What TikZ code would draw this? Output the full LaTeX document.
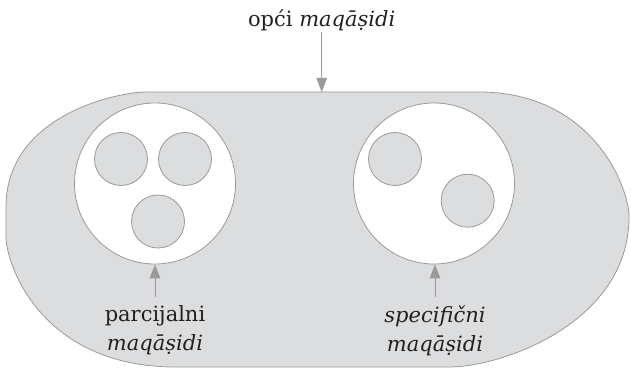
\documentclass[tikz,border=0pt]{standalone}
\usepackage{fontspec}
\setmainfont{DejaVu Serif}
\usetikzlibrary{arrows.meta}
\definecolor{shade}{HTML}{DCDDDF}
\definecolor{rim}{HTML}{9A9A9A}
\definecolor{ink}{HTML}{231F20}
\begin{document}
\begin{tikzpicture}[x=1pt,y=1pt,
  big/.style={shape=circle,draw=rim,fill=white,line width=0.8pt,minimum size=161pt,inner sep=0pt},
  small/.style={shape=circle,draw=rim,fill=shade,line width=0.8pt,minimum size=53pt,inner sep=0pt},
  lbl/.style={text=ink,font=\fontsize{21}{29}\selectfont,align=center,inner sep=0pt},
  arr/.style={draw=rim,line width=0.9pt,-{Triangle[length=14pt,width=10.5pt]}}]
  \useasboundingbox (0,0) rectangle (631,370);
  \draw[draw=rim,fill=shade,line width=0.8pt] (6,163) .. controls (6,255) and (118,278) .. (146,278)
    -- (479,278) .. controls (591.5,278) and (629,184) .. (629,153)
    .. controls (629,48) and (503,3) .. (449,3)
    -- (176,3) .. controls (40,3) and (6,107) .. (6,133) -- cycle;
  \coordinate (rimtop) at (321.7,278);
  \node[big] (parc) at (155,186.5) {};
  \node[big] (spec) at (434,186.5) {};
  \node[small] (p1) at (121,211) {};
  \node[small] (p2) at (185,211) {};
  \node[small] (p3) at (158,148.5) {};
  \node[small] (s1) at (395,211) {};
  \node[small] (s2) at (467.7,169.3) {};
  \node[lbl,anchor=base] (opci) at (321.7,343) {opći \textit{maqāṣidi}};
  \node[lbl,anchor=north,inner ysep=9pt] (parclbl) at (155,73.3) {parcijalni\\\textit{maqāṣidi}};
  \node[lbl,anchor=north,inner ysep=9pt] (speclbl) at (435,73.3) {\textit{specifični}\\\textit{maqāṣidi}};
  \path (opci) edge[arr] (rimtop);
  \path (parclbl) edge[arr] (parc);
  \path (speclbl.north) edge[arr] (spec.south -| speclbl.north);
\end{tikzpicture}
\end{document}
